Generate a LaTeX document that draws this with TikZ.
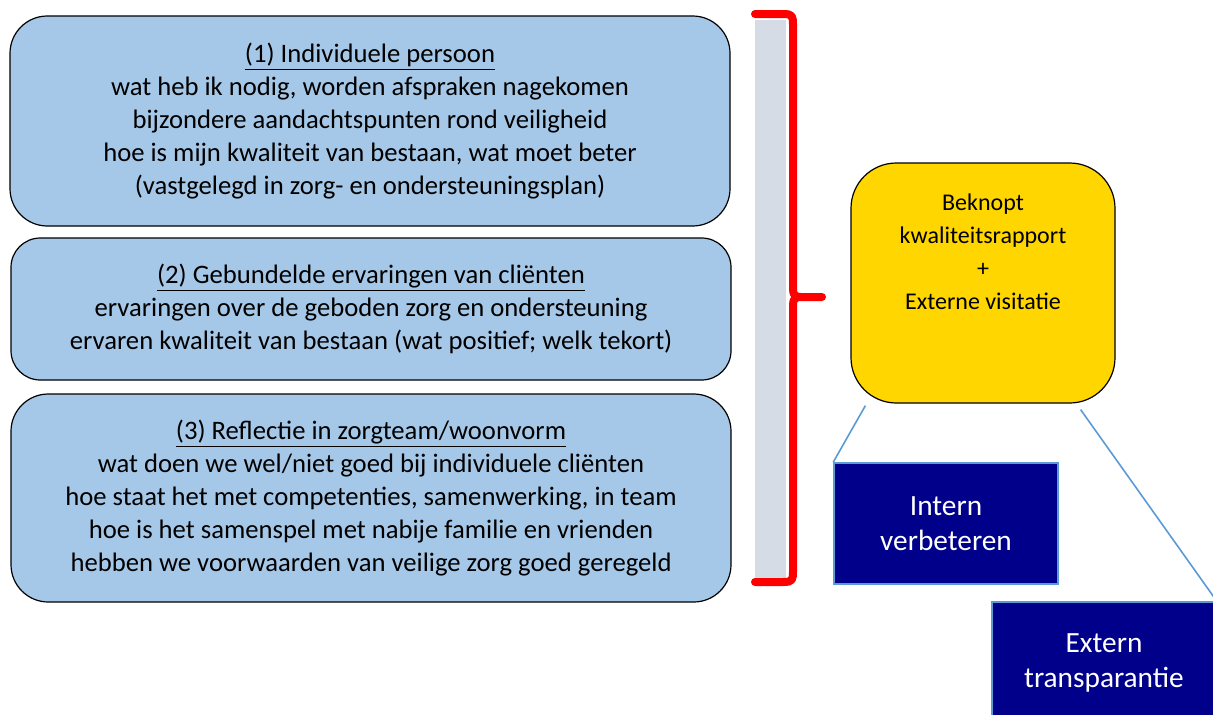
\documentclass[tikz,border=0pt]{standalone}
\usepackage{fontspec}
\setmainfont{Carlito}
\usetikzlibrary{calc}
\definecolor{boxblue}{RGB}{166,200,232}
\definecolor{bandgray}{RGB}{214,220,229}
\definecolor{gold}{RGB}{255,214,0}
\definecolor{darknavy}{RGB}{0,0,139}
\definecolor{lineblue}{RGB}{91,155,213}
\begin{document}
\begin{tikzpicture}[x=0.75pt,y=-0.75pt,
    infobox/.style={draw=black,line width=0.9pt,fill=boxblue,rounded corners=28pt,
      align=center,inner sep=0pt,minimum width=540pt,
      font=\fontsize{20}{24.6}\selectfont},
    resultbox/.style={draw=lineblue,line width=1.2pt,fill=darknavy,text=white,
      align=center,inner sep=0pt,minimum width=168pt,minimum height=90.75pt,
      font=\fontsize{22}{26.2}\selectfont},
    link/.style={draw=lineblue,line width=1.2pt}]
  \useasboundingbox (0,0) rectangle (1213,714);
  \clip (0,0) rectangle (1213,714);
  \draw
    (370,121) node[infobox,minimum height=157.5pt] (persoon)
      {\underline{(1) Individuele persoon}\\
       wat heb ik nodig, worden afspraken nagekomen\\
       bijzondere aandachtspunten rond veiligheid\\
       hoe is mijn kwaliteit van bestaan, wat moet beter\\
       (vastgelegd in zorg- en ondersteuningsplan)}
    (371,309) node[infobox,minimum height=106.5pt,rounded corners=22pt] (clienten)
      {\underline{(2) Gebundelde ervaringen van cliënten}\\
       ervaringen over de geboden zorg en ondersteuning\\
       ervaren kwaliteit van bestaan (wat positief; welk tekort)}
    (371,498) node[infobox,minimum height=156pt] (zorgteam)
      {\underline{(3) Reflectie in zorgteam/woonvorm}\\
       wat doen we wel/niet goed bij individuele cliënten\\
       hoe staat het met competenties, samenwerking, in team\\
       hoe is het samenspel met nabije familie en vrienden\\
       hebben we voorwaarden van veilige zorg goed geregeld};
  % bracket
  \fill[bandgray] (755,20) rectangle (786,578);
  \draw[red,line width=6pt,line cap=round,line join=round]
    (755,14) -- (783,14) .. controls (793,14) and (793,16) .. (793,26)
    -- (793,289) .. controls (793,295) and (795,297) .. (801,297) -- (822,297)
    (801,297) .. controls (795,297) and (793,299) .. (793,305)
    -- (793,570) .. controls (793,580) and (793,582) .. (783,582) -- (755,582);
  \draw
    (983,283) node[draw=black,line width=0.9pt,fill=gold,rounded corners=34pt,
      minimum width=198pt,minimum height=180pt] (rapport) {}
    (983,252) node[align=center,font=\fontsize{18}{24.75}\selectfont] (rapporttekst)
      {Beknopt\\kwaliteitsrapport\\+\\Externe visitatie}
    (946,523.5) node[resultbox] (intern) {Intern\\verbeteren}
    (1104,662.5) node[resultbox] (extern) {Extern\\transparantie};
  \begin{scope}[link]
    \draw ($(rapport.south west)+(15,2)$) to (intern.north west);
    \draw ($(rapport.south east)+(-35,6)$) to (extern.north east);
  \end{scope}
\end{tikzpicture}
\end{document}
